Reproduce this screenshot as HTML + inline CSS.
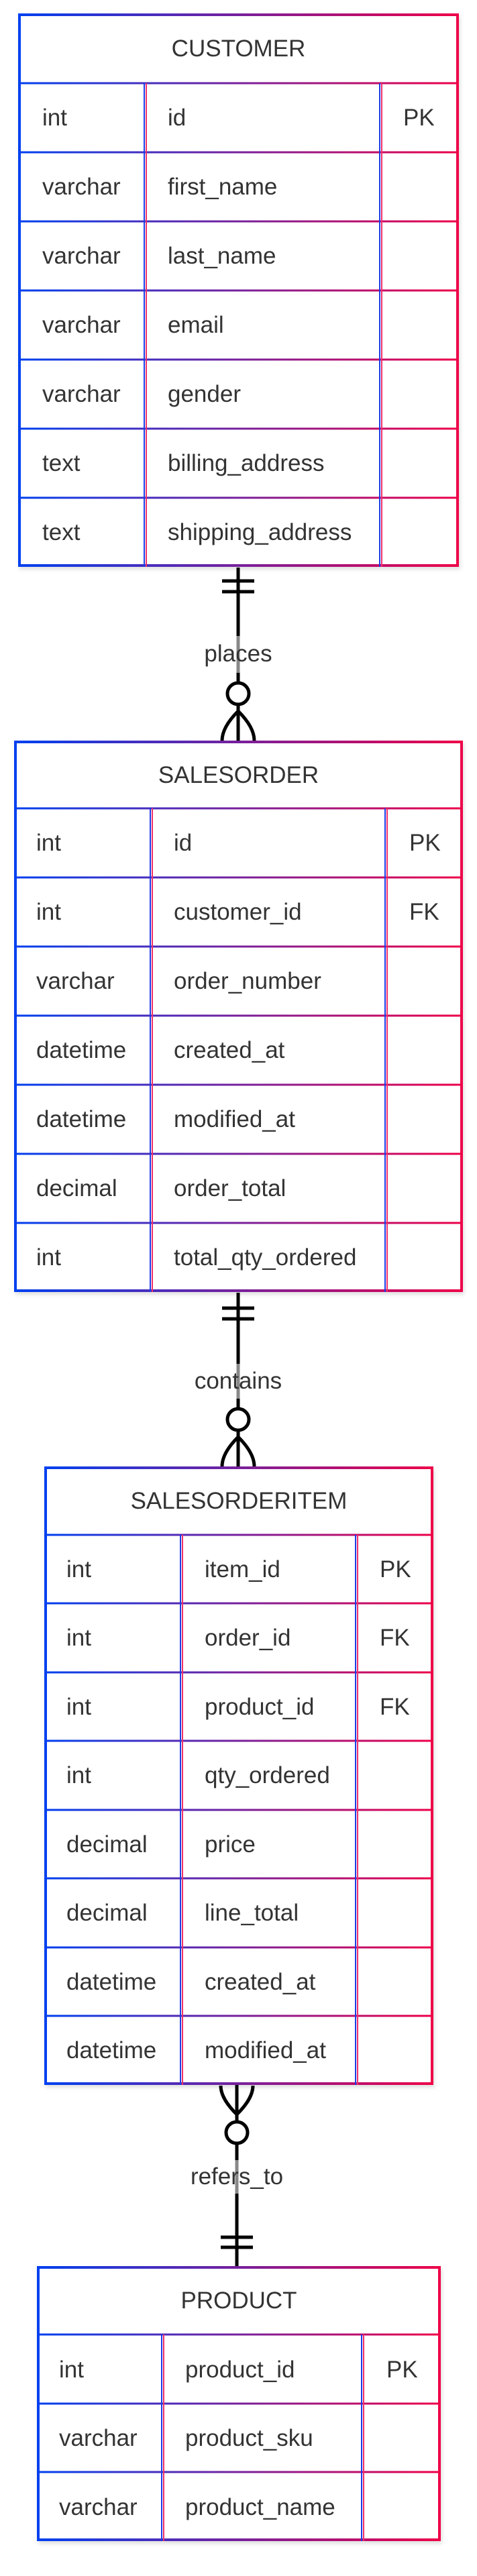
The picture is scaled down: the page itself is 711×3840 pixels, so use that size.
<!DOCTYPE html>
<html><head><meta charset="utf-8"><style>
html,body{margin:0;padding:0;background:#fff;}
svg{display:block;}
text{font-family:"Liberation Sans",Arial,sans-serif;fill:#333;font-size:35px;}
</style></head><body>
<svg width="711" height="3840" viewBox="0 0 711 3840" xmlns="http://www.w3.org/2000/svg">
<defs>
<linearGradient id="gC" gradientUnits="userSpaceOnUse" x1="27" y1="0" x2="684" y2="0"><stop offset="0" stop-color="#0040f0"/><stop offset="1" stop-color="#ee0048"/></linearGradient>
<linearGradient id="gS" gradientUnits="userSpaceOnUse" x1="21" y1="0" x2="690" y2="0"><stop offset="0" stop-color="#0040f0"/><stop offset="1" stop-color="#ee0048"/></linearGradient>
<linearGradient id="gI" gradientUnits="userSpaceOnUse" x1="66" y1="0" x2="646" y2="0"><stop offset="0" stop-color="#0040f0"/><stop offset="1" stop-color="#ee0048"/></linearGradient>
<linearGradient id="gP" gradientUnits="userSpaceOnUse" x1="55" y1="0" x2="657" y2="0"><stop offset="0" stop-color="#0040f0"/><stop offset="1" stop-color="#ee0048"/></linearGradient>
<filter id="sh" x="-5%" y="-5%" width="110%" height="110%"><feDropShadow dx="2" dy="4" stdDeviation="3" flood-color="#000" flood-opacity="0.12"/></filter>
</defs>

<!-- CUSTOMER -->
<g>
<rect x="27" y="20" width="657" height="825" fill="#fff" filter="url(#sh)"/>
<g stroke="url(#gC)" stroke-width="3" fill="none">
<line x1="27" y1="124" x2="684" y2="124"/>
<line x1="27" y1="227" x2="684" y2="227"/>
<line x1="27" y1="330" x2="684" y2="330"/>
<line x1="27" y1="433" x2="684" y2="433"/>
<line x1="27" y1="536" x2="684" y2="536"/>
<line x1="27" y1="639" x2="684" y2="639"/>
<line x1="27" y1="742" x2="684" y2="742"/>
<rect x="29" y="22" width="653" height="821" stroke-width="4"/>
</g>
<line x1="215" y1="124" x2="215" y2="845" stroke="#1a3de8" stroke-width="2"/>
<line x1="218" y1="124" x2="218" y2="845" stroke="#f0306a" stroke-width="2"/>
<line x1="566" y1="124" x2="566" y2="845" stroke="#1a3de8" stroke-width="2"/>
<line x1="569" y1="124" x2="569" y2="845" stroke="#f0306a" stroke-width="2"/>
<text x="355.5" y="84" text-anchor="middle">CUSTOMER</text>
<text x="63" y="187">int</text><text x="250" y="187">id</text><text x="601" y="187">PK</text>
<text x="63" y="290">varchar</text><text x="250" y="290">first_name</text>
<text x="63" y="393">varchar</text><text x="250" y="393">last_name</text>
<text x="63" y="496">varchar</text><text x="250" y="496">email</text>
<text x="63" y="599">varchar</text><text x="250" y="599">gender</text>
<text x="63" y="702">text</text><text x="250" y="702">billing_address</text>
<text x="63" y="805">text</text><text x="250" y="805">shipping_address</text>
</g>

<!-- SALESORDER -->
<g>
<rect x="21" y="1104" width="669" height="822" fill="#fff" filter="url(#sh)"/>
<g stroke="url(#gS)" stroke-width="3" fill="none">
<line x1="21" y1="1205" x2="690" y2="1205"/>
<line x1="21" y1="1308" x2="690" y2="1308"/>
<line x1="21" y1="1411" x2="690" y2="1411"/>
<line x1="21" y1="1514" x2="690" y2="1514"/>
<line x1="21" y1="1617" x2="690" y2="1617"/>
<line x1="21" y1="1720" x2="690" y2="1720"/>
<line x1="21" y1="1823" x2="690" y2="1823"/>
<rect x="23" y="1106" width="665" height="818" stroke-width="4"/>
</g>
<line x1="224" y1="1205" x2="224" y2="1926" stroke="#1a3de8" stroke-width="2"/>
<line x1="227" y1="1205" x2="227" y2="1926" stroke="#f0306a" stroke-width="2"/>
<line x1="574" y1="1205" x2="574" y2="1926" stroke="#1a3de8" stroke-width="2"/>
<line x1="577" y1="1205" x2="577" y2="1926" stroke="#f0306a" stroke-width="2"/>
<text x="355.5" y="1167" text-anchor="middle">SALESORDER</text>
<text x="54" y="1268">int</text><text x="259" y="1268">id</text><text x="610" y="1268">PK</text>
<text x="54" y="1371">int</text><text x="259" y="1371">customer_id</text><text x="610" y="1371">FK</text>
<text x="54" y="1474">varchar</text><text x="259" y="1474">order_number</text>
<text x="54" y="1577">datetime</text><text x="259" y="1577">created_at</text>
<text x="54" y="1680">datetime</text><text x="259" y="1680">modified_at</text>
<text x="54" y="1783">decimal</text><text x="259" y="1783">order_total</text>
<text x="54" y="1886">int</text><text x="259" y="1886">total_qty_ordered</text>
</g>

<!-- SALESORDERITEM -->
<g>
<rect x="66" y="2186" width="580" height="922" fill="#fff" filter="url(#sh)"/>
<g stroke="url(#gI)" stroke-width="3" fill="none">
<line x1="66" y1="2288" x2="646" y2="2288"/>
<line x1="66" y1="2390" x2="646" y2="2390"/>
<line x1="66" y1="2493" x2="646" y2="2493"/>
<line x1="66" y1="2595" x2="646" y2="2595"/>
<line x1="66" y1="2698" x2="646" y2="2698"/>
<line x1="66" y1="2800" x2="646" y2="2800"/>
<line x1="66" y1="2903" x2="646" y2="2903"/>
<line x1="66" y1="3005" x2="646" y2="3005"/>
<rect x="68" y="2188" width="576" height="918" stroke-width="4"/>
</g>
<line x1="269" y1="2288" x2="269" y2="3108" stroke="#1a3de8" stroke-width="2"/>
<line x1="272" y1="2288" x2="272" y2="3108" stroke="#f0306a" stroke-width="2"/>
<line x1="530" y1="2288" x2="530" y2="3108" stroke="#1a3de8" stroke-width="2"/>
<line x1="533" y1="2288" x2="533" y2="3108" stroke="#f0306a" stroke-width="2"/>
<text x="356" y="2249" text-anchor="middle">SALESORDERITEM</text>
<text x="99" y="2351">int</text><text x="305" y="2351">item_id</text><text x="566" y="2351">PK</text>
<text x="99" y="2453">int</text><text x="305" y="2453">order_id</text><text x="566" y="2453">FK</text>
<text x="99" y="2556">int</text><text x="305" y="2556">product_id</text><text x="566" y="2556">FK</text>
<text x="99" y="2658">int</text><text x="305" y="2658">qty_ordered</text>
<text x="99" y="2761">decimal</text><text x="305" y="2761">price</text>
<text x="99" y="2863">decimal</text><text x="305" y="2863">line_total</text>
<text x="99" y="2966">datetime</text><text x="305" y="2966">created_at</text>
<text x="99" y="3068">datetime</text><text x="305" y="3068">modified_at</text>
</g>

<!-- PRODUCT -->
<g>
<rect x="55" y="3378" width="602" height="410" fill="#fff" filter="url(#sh)"/>
<g stroke="url(#gP)" stroke-width="3" fill="none">
<line x1="55" y1="3480" x2="657" y2="3480"/>
<line x1="55" y1="3583" x2="657" y2="3583"/>
<line x1="55" y1="3685" x2="657" y2="3685"/>
<rect x="57" y="3380" width="598" height="406" stroke-width="4"/>
</g>
<line x1="241" y1="3480" x2="241" y2="3788" stroke="#1a3de8" stroke-width="2"/>
<line x1="244" y1="3480" x2="244" y2="3788" stroke="#f0306a" stroke-width="2"/>
<line x1="539" y1="3480" x2="539" y2="3788" stroke="#1a3de8" stroke-width="2"/>
<line x1="542" y1="3480" x2="542" y2="3788" stroke="#f0306a" stroke-width="2"/>
<text x="356" y="3441" text-anchor="middle">PRODUCT</text>
<text x="88" y="3544">int</text><text x="276" y="3544">product_id</text><text x="576" y="3544">PK</text>
<text x="88" y="3646">varchar</text><text x="276" y="3646">product_sku</text>
<text x="88" y="3749">varchar</text><text x="276" y="3749">product_name</text>
</g>

<!-- Connectors -->
<g stroke="#000" stroke-width="5" fill="none">
<!-- places -->
<line x1="355" y1="846" x2="355" y2="948"/>
<line x1="355" y1="1003" x2="355" y2="1104"/>
<line x1="331" y1="866" x2="379" y2="866"/>
<line x1="331" y1="882" x2="379" y2="882"/>
<circle cx="355" cy="1034" r="16" fill="#fff"/>
<path d="M331,1104 C331,1088 343,1072 355,1060 C367,1072 379,1088 379,1104"/>
<!-- contains -->
<line x1="355" y1="1927" x2="355" y2="2033"/>
<line x1="355" y1="2085" x2="355" y2="2186"/>
<line x1="331" y1="1950" x2="379" y2="1950"/>
<line x1="331" y1="1966" x2="379" y2="1966"/>
<circle cx="355" cy="2116" r="16" fill="#fff"/>
<path d="M331,2186 C331,2170 343,2154 355,2142 C367,2154 379,2170 379,2186"/>
<!-- refers_to -->
<line x1="353" y1="3108" x2="353" y2="3220"/>
<line x1="353" y1="3270" x2="353" y2="3378"/>
<circle cx="353" cy="3179" r="16" fill="#fff"/>
<path d="M329,3109 C329,3125 341,3140 353,3152 C365,3140 377,3125 377,3109"/>
<line x1="329" y1="3335" x2="377" y2="3335"/>
<line x1="329" y1="3350" x2="377" y2="3350"/>
</g>
<g stroke="#888" stroke-width="5">
<line x1="355" y1="948" x2="355" y2="1003"/>
<line x1="355" y1="2033" x2="355" y2="2085"/>
<line x1="353" y1="3220" x2="353" y2="3270"/>
</g>
<text x="355" y="986" text-anchor="middle">places</text>
<text x="355" y="2070" text-anchor="middle">contains</text>
<text x="353" y="3256" text-anchor="middle">refers_to</text>
</svg>
</body></html>
